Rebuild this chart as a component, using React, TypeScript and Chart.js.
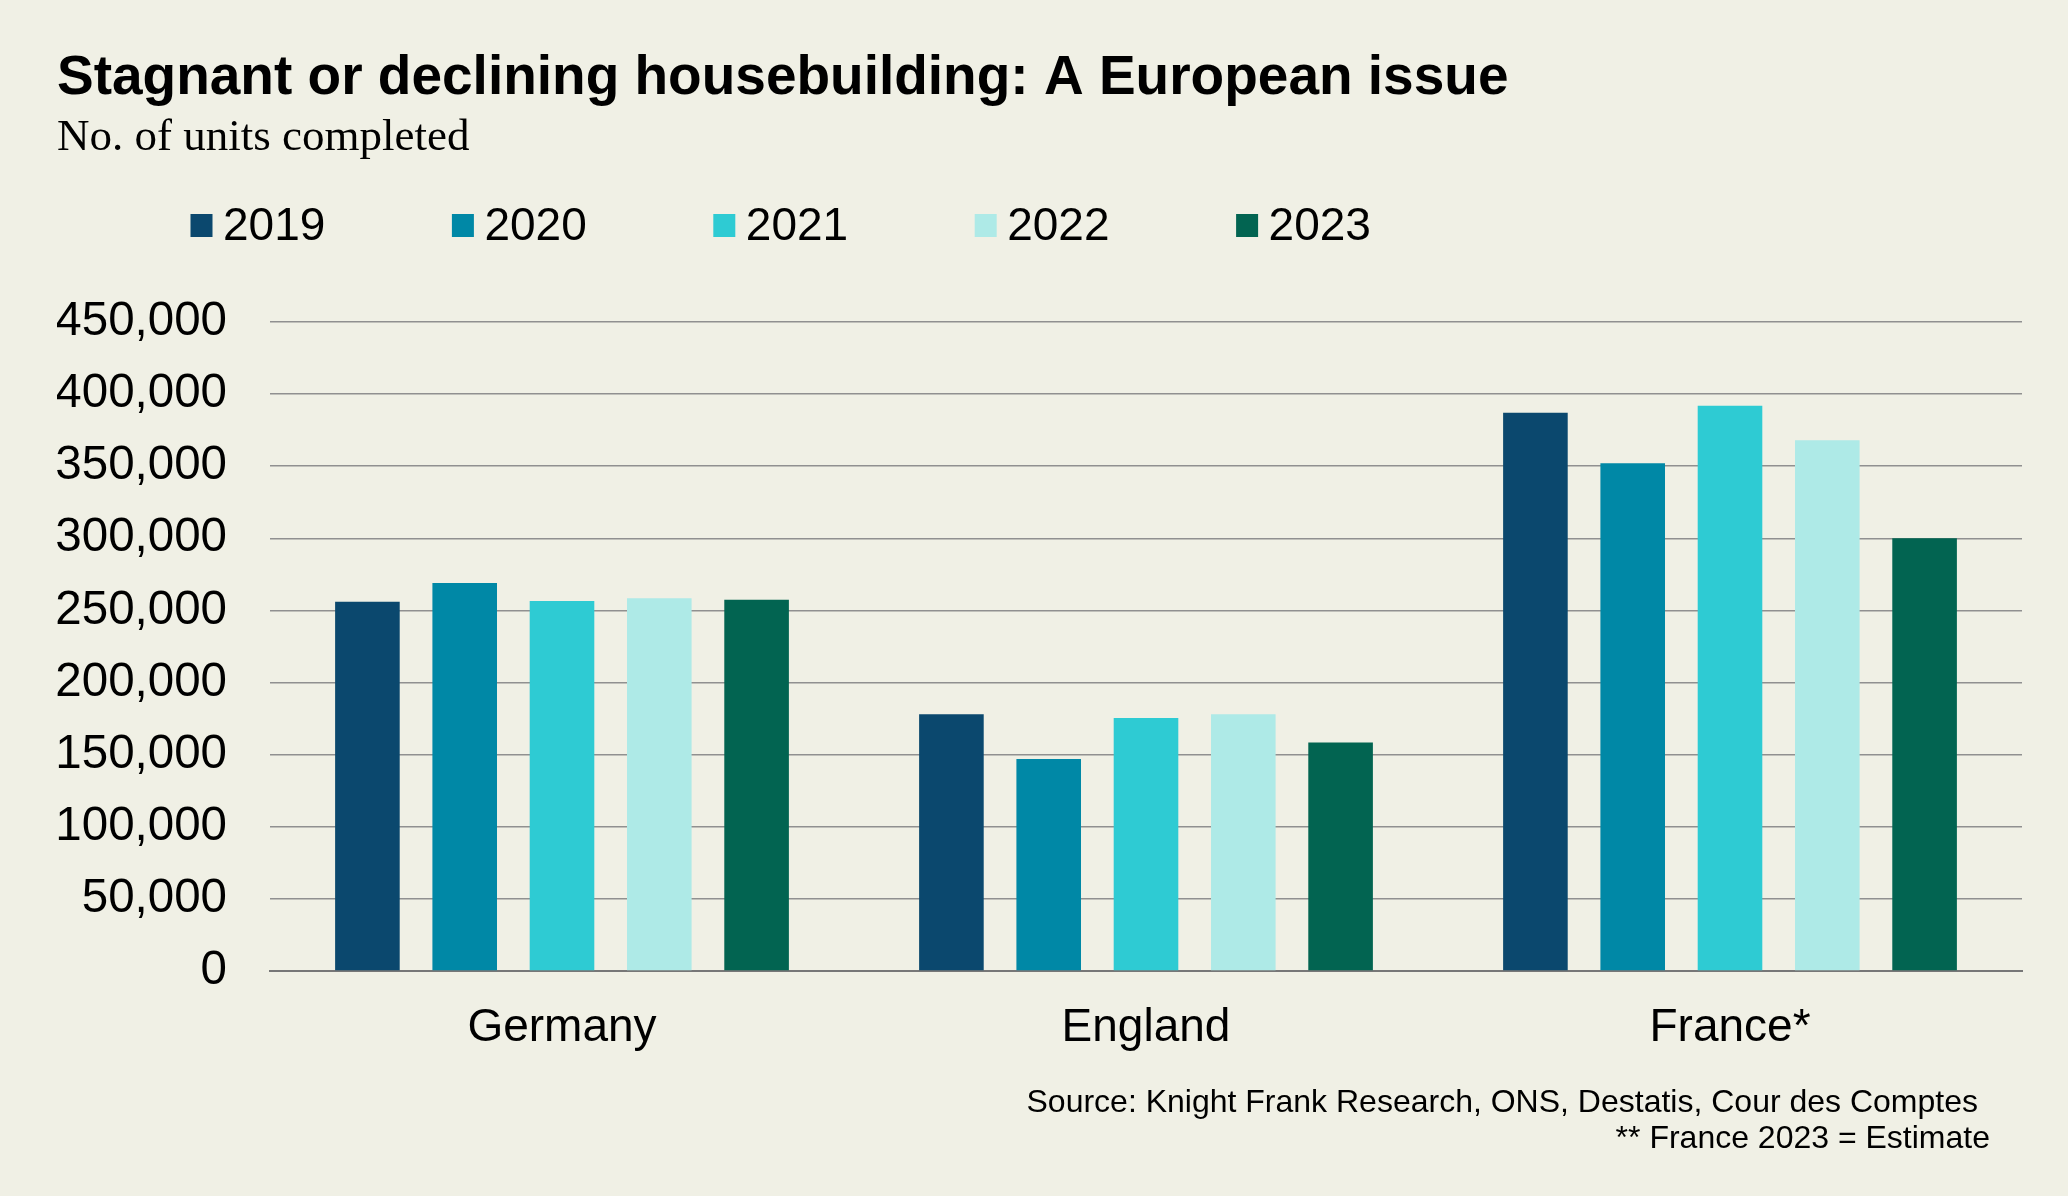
import React, { useEffect, useRef } from "react";
import { Chart, registerables } from "chart.js";

Chart.register(...registerables);

const categories = ["Germany", "England", "France*"];
const seriesLabels = ["2019", "2020", "2021", "2022", "2023"];
const values2019 = [256000, 178000, 387000];
const values2020 = [269000, 147000, 352000];
const values2021 = [256500, 175500, 392000];
const values2022 = [258500, 178000, 368000];
const values2023 = [257500, 158500, 300000];
const seriesColors = ["#0b486e", "#0088a6", "#2ecbd3", "#aeeae7", "#026451"];
const yMin = 0;
const yMax = 450000;
const yStep = 50000;

const titleText = "Stagnant or declining housebuilding: A European issue";
const subtitleText = "No. of units completed";
const sourceLine1 = "Source: Knight Frank Research, ONS, Destatis, Cour des Comptes";
const sourceLine2 = "** France 2023 = Estimate";

const BG = "#f0f0e5";
const SANS = "'Liberation Sans', Arial, Helvetica, sans-serif";
const SERIF = "'Liberation Serif', 'Times New Roman', serif";

const decorPlugin = {
  id: "decor",
  beforeDraw(chart: any) {
    const ctx = chart.ctx;
    ctx.save();
    ctx.fillStyle = BG;
    ctx.fillRect(0, 0, chart.width, chart.height);
    ctx.restore();
  },
  afterDraw(chart: any) {
    const ctx = chart.ctx;
    ctx.save();
    ctx.fillStyle = "#000";
    ctx.textBaseline = "alphabetic";
    ctx.textAlign = "left";
    ctx.font = `bold 55px ${SANS}`;
    ctx.fillText(titleText, 57, 94);
    ctx.font = `45px ${SERIF}`;
    ctx.fillText(subtitleText, 57, 150);

    // legend
    ctx.font = `46px ${SANS}`;
    const startX = 190.5;
    const step = 261.4;
    chart.data.datasets.forEach((ds: any, i: number) => {
      const x = startX + i * step;
      ctx.fillStyle = ds.backgroundColor;
      ctx.fillRect(x, 214, 22, 23);
      ctx.fillStyle = "#000";
      ctx.fillText(ds.label, x + 32.5, 240);
    });

    // source
    ctx.font = `32px ${SANS}`;
    ctx.textAlign = "right";
    ctx.fillText(sourceLine1, 1978, 1112);
    ctx.fillText(sourceLine2, 1990, 1148);
    ctx.restore();
  },
};

export default function App() {
  const canvasRef = useRef<HTMLCanvasElement | null>(null);

  useEffect(() => {
    document.body.style.margin = "0";
    document.body.style.background = BG;
    document.documentElement.style.overflow = "hidden";
    const canvas = canvasRef.current;
    if (!canvas) return;
    const seriesValues = [values2019, values2020, values2021, values2022, values2023];
    const chart = new Chart(canvas, {
      type: "bar",
      data: {
        labels: categories,
        datasets: seriesLabels.map((label, i) => ({
          label,
          data: seriesValues[i],
          backgroundColor: seriesColors[i],
          borderWidth: 0,
          categoryPercentage: 0.833,
          barPercentage: 0.664,
        })),
      },
      options: {
        animation: false,
        responsive: false,
        devicePixelRatio: 1,
        layout: { padding: { left: 57, right: 46, top: 322, bottom: 125 } },
        plugins: {
          legend: { display: false },
          title: { display: false },
          tooltip: { enabled: false },
        },
        scales: {
          x: {
            grid: { display: false },
            border: { display: true, color: "#777777", width: 2 },
            ticks: { color: "#000", font: { family: SANS, size: 46 }, padding: 22 },
            afterFit: (s: any) => {
              s.height = 100;
            },
          },
          y: {
            min: yMin,
            max: yMax,
            ticks: {
              stepSize: yStep,
              color: "#000",
              font: { family: SANS, size: 47.5 },
              padding: 43,
              callback: (v: any) => Number(v).toLocaleString("en-US"),
            },
            grid: { color: "#909090", lineWidth: 1.5, drawTicks: false },
            border: { display: false },
            afterFit: (s: any) => {
              s.width = 213;
            },
          },
        },
      },
      plugins: [decorPlugin],
    });
    return () => chart.destroy();
  }, []);

  return (
    <div style={{ width: 2068, height: 1196, background: BG }}>
      <canvas ref={canvasRef} width={2068} height={1196} style={{ display: "block" }} />
    </div>
  );
}
